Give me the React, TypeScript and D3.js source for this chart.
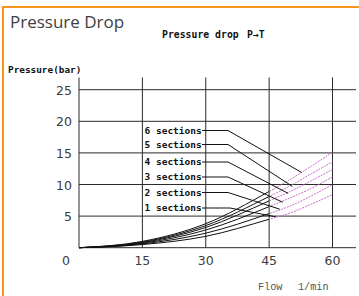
import * as d3 from 'd3';
import { useEffect, useRef } from 'react';

// flow (l/min) sample points
const flow = [0, 15, 30, 45, 50, 55, 60];
// pressure drop (bar) per number of sections
const sec1 = [0, 0.5, 1.8, 4.5, 5.5, 6.9, 8.4];
const sec2 = [0, 0.6, 2.3, 5.4, 6.6, 8.2, 10.0];
const sec3 = [0, 0.7, 2.8, 6.5, 7.9, 9.4, 11.2];
const sec4 = [0, 0.8, 3.2, 7.4, 8.9, 10.6, 12.4];
const sec5 = [0, 0.9, 3.5, 8.1, 9.8, 11.7, 13.6];
const sec6 = [0, 1.0, 3.8, 8.9, 10.8, 12.9, 15.1];
const sectionLabels = ['1 sections', '2 sections', '3 sections', '4 sections', '5 sections', '6 sections'];
// where each leader line touches its curve (flow, bar)
const leaderFlow = [46.5, 47.5, 48.2, 49.5, 50.5, 52.7];
const leaderBar = [4.9, 6.1, 7.2, 8.6, 9.7, 11.9];
const measuredUntil = 45;
const xTicks = [15, 30, 45, 60];
const yTicks = [5, 10, 15, 20, 25];

export default function App() {
  const ref = useRef<SVGSVGElement | null>(null);

  useEffect(() => {
    if (!ref.current) return;
    const svg = d3.select(ref.current);
    svg.selectAll('*').remove();

    const x = d3.scaleLinear().domain([0, 60]).range([79, 332.5]);
    const y = d3.scaleLinear().domain([0, 25]).range([247.7, 89.7]);
    const series = [sec1, sec2, sec3, sec4, sec5, sec6];

    // orange frame
    svg.append('rect').attr('x', 3).attr('y', 7).attr('width', 400).attr('height', 400)
      .attr('fill', 'none').attr('stroke', '#f7941d').attr('stroke-width', 2);

    svg.append('text').attr('x', 10).attr('y', 28).text('Pressure Drop')
      .attr('font-family', 'Open Sans, sans-serif').attr('font-size', 17).attr('fill', '#404040');

    const mono = (s: d3.Selection<SVGTextElement, unknown, null, undefined>, size: number) =>
      s.attr('font-family', 'DejaVu Sans Mono, monospace').attr('font-weight', 'bold')
        .attr('font-size', size).attr('fill', '#111');
    svg.append('text').attr('x', 162).attr('y', 37.5).text('Pressure drop').call(mono, 9.8);
    svg.append('text').attr('x', 247).attr('y', 37.5).text('P\u2192T').call(mono, 9.8);
    svg.append('text').attr('x', 8).attr('y', 73).text('Pressure(bar)').call(mono, 9.4);

    // grid
    const grid = svg.append('g').attr('stroke', '#2a2a2a').attr('stroke-width', 1);
    grid.selectAll('line.h').data([0, ...yTicks]).join('line').attr('class', 'h')
      .attr('x1', x(0)).attr('x2', 356).attr('y1', (d) => y(d)).attr('y2', (d) => y(d));
    grid.selectAll('line.v').data([0, ...xTicks]).join('line').attr('class', 'v')
      .attr('x1', (d) => x(d)).attr('x2', (d) => x(d)).attr('y1', 77.5).attr('y2', y(0));

    const tickFont = (s: d3.Selection<SVGTextElement, number, SVGGElement, unknown>) =>
      s.attr('font-family', 'DejaVu Sans, sans-serif')
        .attr('font-size', 12.5).attr('fill', '#3c3c3c');
    svg.append('g').selectAll('text').data(yTicks).join('text')
      .attr('x', 72).attr('y', (d) => y(d)).attr('dy', '0.4em').attr('text-anchor', 'end')
      .text((d) => d).call(tickFont);
    svg.append('g').selectAll('text').data(xTicks).join('text')
      .attr('x', (d) => x(d)).attr('y', 264.5).attr('text-anchor', 'middle')
      .text((d) => d).call(tickFont);
    svg.append('g').selectAll('text').data([0]).join('text')
      .attr('x', x(0) - 13).attr('y', 264.5).attr('text-anchor', 'middle')
      .text((d) => d).call(tickFont);

    const axisTitle = (s: d3.Selection<SVGTextElement, unknown, null, undefined>) =>
      s.attr('font-family', 'Liberation Mono, monospace').attr('font-size', 10.2).attr('fill', '#555');
    svg.append('text').attr('x', 258).attr('y', 290).text('Flow').call(axisTitle);
    svg.append('text').attr('x', 298).attr('y', 290).text('1/min').call(axisTitle);

    // clip measured (solid) vs extrapolated (dashed) parts
    const defs = svg.append('defs');
    defs.append('clipPath').attr('id', 'solidClip').append('rect')
      .attr('x', 0).attr('y', 0).attr('width', x(measuredUntil)).attr('height', 296);
    defs.append('clipPath').attr('id', 'dashClip').append('rect')
      .attr('x', x(measuredUntil)).attr('y', 0).attr('width', 359).attr('height', 296);

    const line = d3.line<number>()
      .x((_, i) => x(flow[i]))
      .y((d) => y(d))
      .curve(d3.curveMonotoneX);

    svg.append('g').attr('clip-path', 'url(#solidClip)').selectAll('path').data(series).join('path')
      .attr('d', (d) => line(d)).attr('fill', 'none').attr('stroke', '#111').attr('stroke-width', 1);
    svg.append('g').attr('clip-path', 'url(#dashClip)').selectAll('path').data(series).join('path')
      .attr('d', (d) => line(d)).attr('fill', 'none').attr('stroke', '#c86ec8')
      .attr('stroke-width', 1).attr('stroke-dasharray', '2,1');

    // section labels with leader lines
    const labelCenter = [207.5, 192, 176.5, 161.5, 144, 130];
    const bendX = [230, 228, 228, 228, 228, 228];
    const lab = svg.append('g');
    sectionLabels.forEach((t, i) => {
      lab.append('text').attr('x', 144.5).attr('y', labelCenter[i] + 3.5).text(t)
        .attr('font-family', 'DejaVu Sans Mono, monospace').attr('font-weight', 'bold')
        .attr('font-size', 9.5).attr('fill', '#111');
      const ly = labelCenter[i] + 0.5;
      lab.append('polyline')
        .attr('points', `202,${ly} ${bendX[i]},${ly} ${x(leaderFlow[i])},${y(leaderBar[i])}`)
        .attr('fill', 'none').attr('stroke', '#111').attr('stroke-width', 1);
    });
  }, []);

  return (
    <svg ref={ref} width={359} height={296}
      style={{ position: 'absolute', left: 0, top: 0, background: '#fff' }} />
  );
}
